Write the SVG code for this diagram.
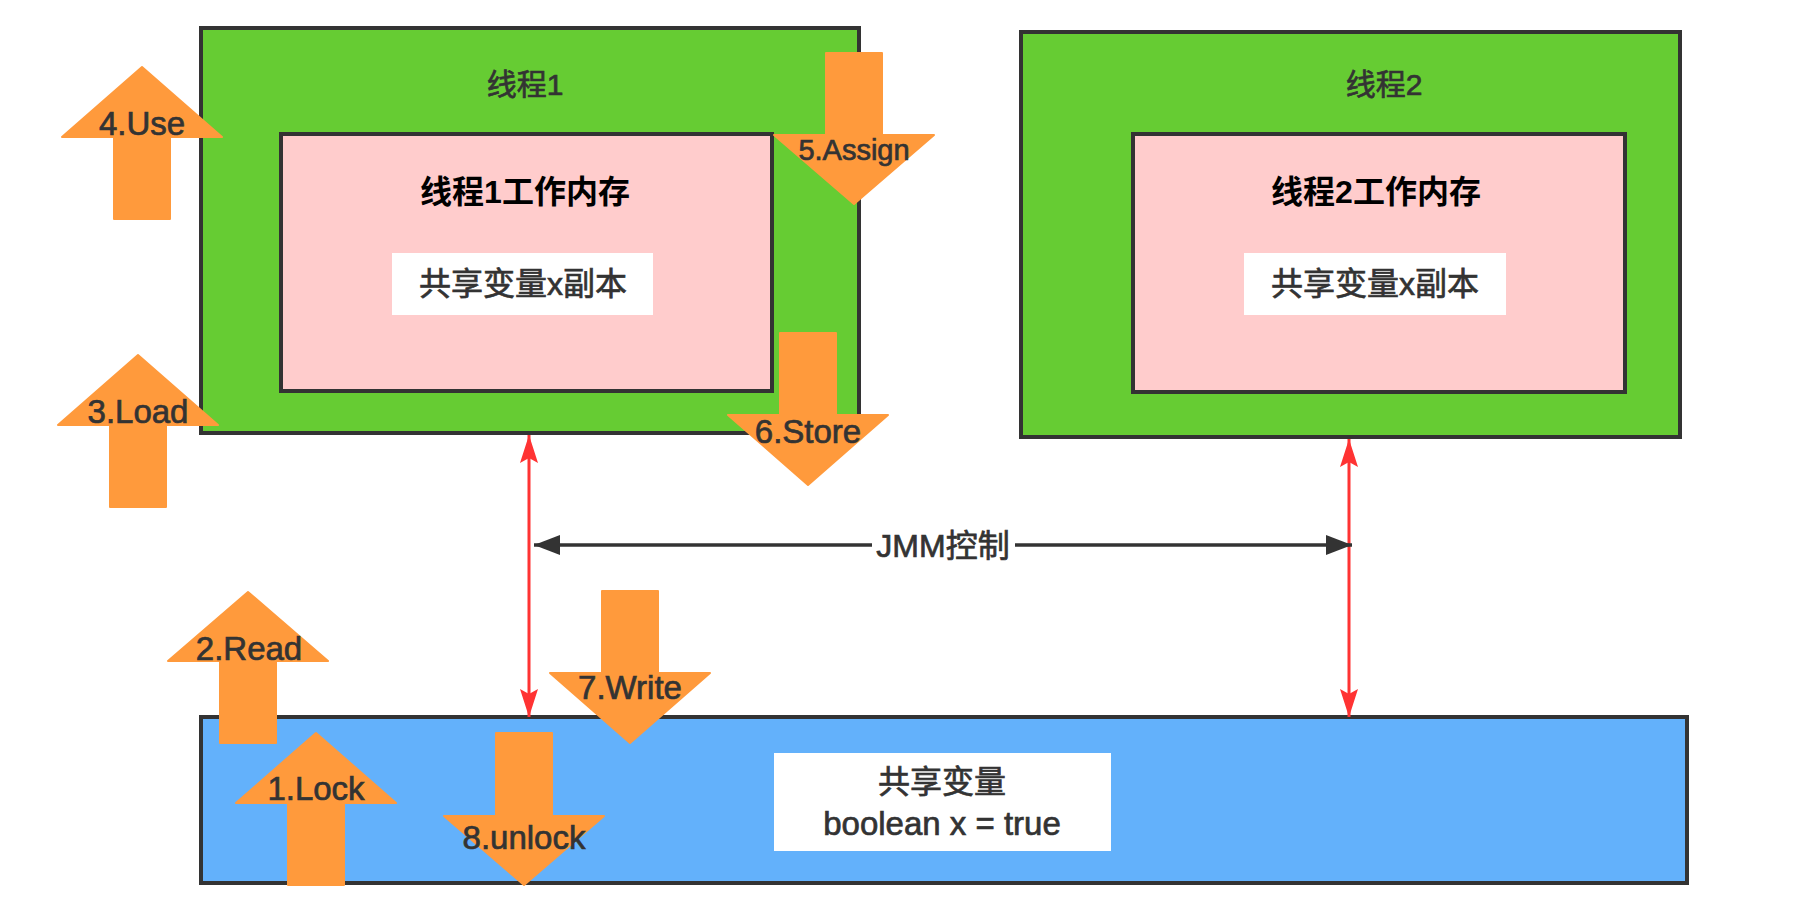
<svg xmlns="http://www.w3.org/2000/svg" width="1796" height="906" viewBox="0 0 1796 906">
<defs>
<style>
.outer{fill:#66CC33;stroke:#333;stroke-width:4}
.inner{fill:#FFCCCC;stroke:#333;stroke-width:4}
.mem{fill:#63B1FB;stroke:#333;stroke-width:4}
.wbox{fill:#fff}
.t{font-family:"Liberation Sans","Noto Sans CJK SC",sans-serif;font-size:32px;fill:#333;stroke:#333;stroke-width:0.7;text-anchor:middle;dominant-baseline:central}
.b{font-weight:bold;fill:#000;stroke:none}
.lb{font-size:33px}
.op{fill:#FF9A3C;stroke:#FF9A3C;stroke-width:2;stroke-linejoin:round}
.red{stroke:#FF3333;stroke-width:3;fill:none}
.blk{stroke:#333;stroke-width:3.5;fill:none}
</style>
<marker id="ra" viewBox="0 0 28 18" refX="28" refY="9" markerWidth="28" markerHeight="18" markerUnits="userSpaceOnUse" orient="auto-start-reverse">
<path d="M0,0 L28,9 L0,18 L5,9 z" fill="#FF3333"/>
</marker>
<marker id="ba" viewBox="0 0 26 20" refX="26" refY="10" markerWidth="26" markerHeight="20" markerUnits="userSpaceOnUse" orient="auto">
<path d="M0,0 L26,10 L0,20 z" fill="#333"/>
</marker>
</defs>
<rect width="1796" height="906" fill="#fff"/>

<g id="thread1">
<rect class="outer" x="201" y="28" width="658" height="405"/>
<text class="t" x="525" y="84" style="font-size:30px">线程1</text>
</g>
<g id="thread1-mem">
<rect class="inner" x="281" y="134" width="491" height="257"/>
<text class="t b" x="525" y="192">线程1工作内存</text>
</g>
<g id="thread1-copy">
<rect class="wbox" x="392" y="253" width="261" height="62"/>
<text class="t" x="523" y="284">共享变量x副本</text>
</g>

<g id="thread2">
<rect class="outer" x="1021" y="32" width="659" height="405"/>
<text class="t" x="1384" y="84" style="font-size:30px">线程2</text>
</g>
<g id="thread2-mem">
<rect class="inner" x="1133" y="134" width="492" height="258"/>
<text class="t b" x="1376" y="192">线程2工作内存</text>
</g>
<g id="thread2-copy">
<rect class="wbox" x="1244" y="253" width="262" height="62"/>
<text class="t" x="1375" y="284">共享变量x副本</text>
</g>

<g id="main-memory">
<rect class="mem" x="201" y="717" width="1486" height="166"/>
</g>
<g id="shared-var">
<rect class="wbox" x="774" y="753" width="337" height="98"/>
<text class="t" x="942" y="782">共享变量</text>
<text class="t lb" x="942" y="823">boolean x = true</text>
</g>

<g id="connectors">
<line class="red" x1="529" y1="435" x2="529" y2="717" marker-start="url(#ra)" marker-end="url(#ra)"/>
<line class="red" x1="1349" y1="439" x2="1349" y2="717" marker-start="url(#ra)" marker-end="url(#ra)"/>
<line class="blk" x1="872" y1="545" x2="534" y2="545" marker-end="url(#ba)"/>
<line class="blk" x1="1015" y1="545" x2="1352" y2="545" marker-end="url(#ba)"/>
<text class="t" x="943" y="546">JMM控制</text>
</g>

<g id="op-use">
<polygon class="op" points="142,67 222,137 170,137 170,219 114,219 114,137 62,137"/>
<text class="t lb" x="142" y="123">4.Use</text>
</g>
<g id="op-load">
<polygon class="op" points="138,355 218,425 166,425 166,507 110,507 110,425 58,425"/>
<text class="t lb" x="138" y="411">3.Load</text>
</g>
<g id="op-assign">
<polygon class="op" points="826,53 882,53 882,135 934,135 854,204 774,135 826,135"/>
<text class="t" x="854" y="150" style="font-size:29px">5.Assign</text>
</g>
<g id="op-store">
<polygon class="op" points="780,333 836,333 836,415 888,415 808,485 728,415 780,415"/>
<text class="t lb" x="808" y="431">6.Store</text>
</g>
<g id="op-read">
<polygon class="op" points="248,592 328,661 276,661 276,743 220,743 220,661 168,661"/>
<text class="t lb" x="249" y="648">2.Read</text>
</g>
<g id="op-write">
<polygon class="op" points="602,591 658,591 658,673 710,673 630,743 550,673 602,673"/>
<text class="t lb" x="630" y="687">7.Write</text>
</g>
<g id="op-lock">
<polygon class="op" points="316,733 396,803 344,803 344,885 288,885 288,803 236,803"/>
<text class="t lb" x="316" y="788">1.Lock</text>
</g>
<g id="op-unlock">
<polygon class="op" points="496,733 552,733 552,816 604,816 524,885 444,816 496,816"/>
<text class="t lb" x="524" y="837">8.unlock</text>
</g>
</svg>
